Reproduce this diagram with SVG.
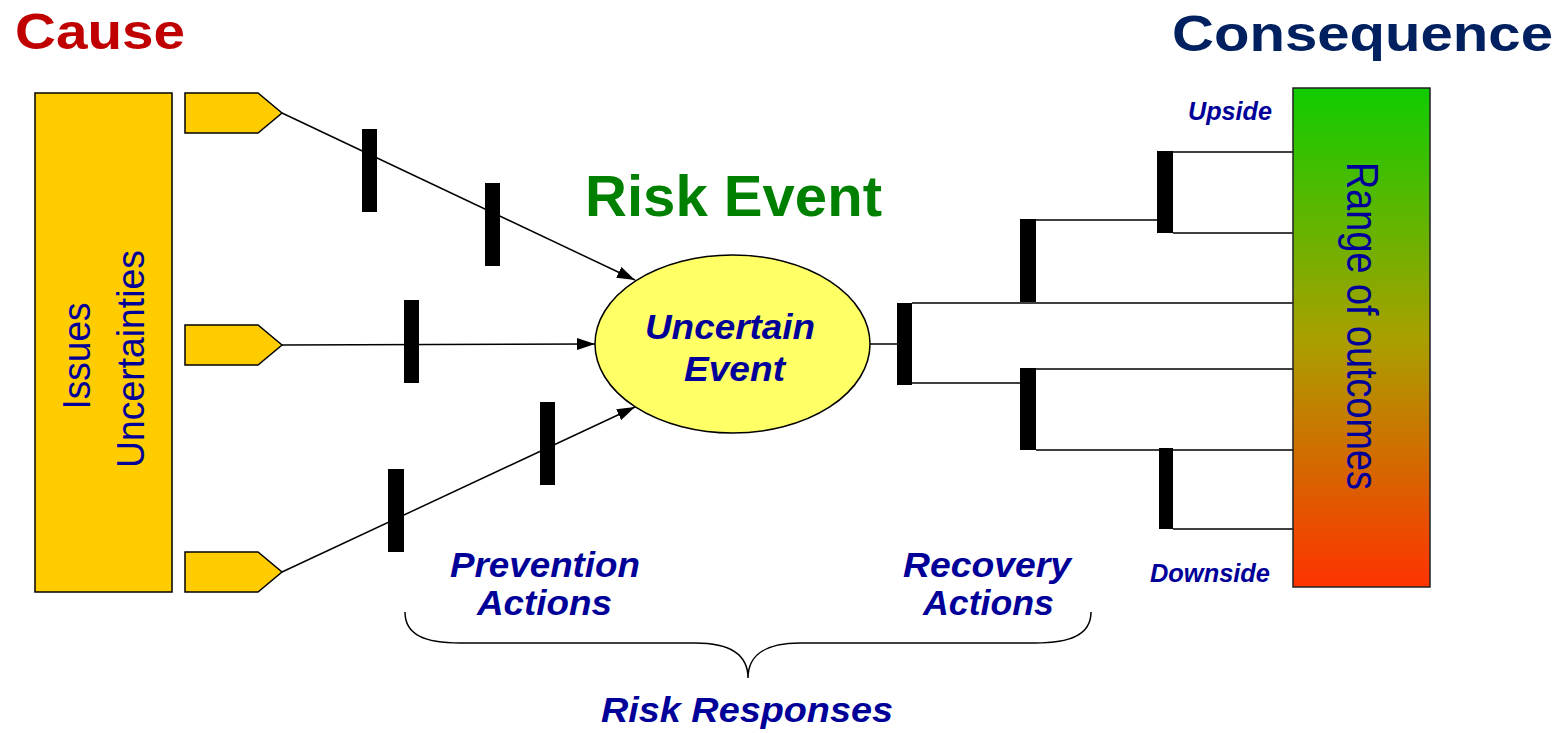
<svg xmlns="http://www.w3.org/2000/svg" width="1564" height="733" viewBox="0 0 1564 733">
<style>
text{font-family:"Liberation Sans",Arial,sans-serif}
.b{font-weight:bold}
.bi{font-weight:bold;font-style:italic;fill:#000099}
.blue{fill:#000099}
.ln{stroke:#000;stroke-width:1.5;fill:none}
.bar{fill:#000}
.yel{fill:#FFCC00;stroke:#000;stroke-width:1.5}
</style>
<defs>
<marker id="arr" markerUnits="userSpaceOnUse" markerWidth="18" markerHeight="12" refX="18" refY="6" orient="auto">
<path d="M0,0 L18,6 L0,12 z" fill="#000"/>
</marker>
<linearGradient id="rg" x1="0" y1="0" x2="0" y2="1">
<stop offset="0" stop-color="#10CC00"/>
<stop offset="0.5" stop-color="#A8A000"/>
<stop offset="1" stop-color="#FF3300"/>
</linearGradient>
</defs>
<rect width="1564" height="733" fill="#fff"/>

<g id="titles">
<text x="15" y="49" class="b" font-size="50" fill="#C00000" textLength="170" lengthAdjust="spacingAndGlyphs">Cause</text>
<text x="1172" y="51" class="b" font-size="50" fill="#002060" textLength="381" lengthAdjust="spacingAndGlyphs">Consequence</text>
<text x="585" y="216" class="b" font-size="58" fill="#008000" textLength="297" lengthAdjust="spacingAndGlyphs">Risk Event</text>
</g>

<g id="causes">
<rect x="35" y="93" width="137" height="499" class="yel"/>
<text transform="translate(90,356) rotate(-90)" text-anchor="middle" font-size="38" class="blue" textLength="107" lengthAdjust="spacingAndGlyphs">Issues</text>
<text transform="translate(144,359) rotate(-90)" text-anchor="middle" font-size="38" class="blue" textLength="218" lengthAdjust="spacingAndGlyphs">Uncertainties</text>
</g>

<g id="cause1"><polygon points="185,93 258,93 282,113 258,133 185,133" class="yel"/></g>
<g id="cause2"><polygon points="185,325 258,325 282,345 258,365 185,365" class="yel"/></g>
<g id="cause3"><polygon points="185,552 258,552 282,572 258,592 185,592" class="yel"/></g>

<g id="connectors">
<line x1="282" y1="113" x2="635" y2="280" class="ln" marker-end="url(#arr)"/>
<line x1="282" y1="345" x2="595" y2="344" class="ln" marker-end="url(#arr)"/>
<line x1="282" y1="572" x2="635" y2="407" class="ln" marker-end="url(#arr)"/>
<line x1="870" y1="344" x2="897" y2="344" class="ln"/>
<line x1="912" y1="303" x2="1293" y2="303" class="ln"/>
<line x1="1036" y1="220" x2="1157" y2="220" class="ln"/>
<line x1="1157" y1="152" x2="1293" y2="152" class="ln"/>
<line x1="1173" y1="233" x2="1293" y2="233" class="ln"/>
<line x1="912" y1="383" x2="1020" y2="383" class="ln"/>
<line x1="1020" y1="369" x2="1293" y2="369" class="ln"/>
<line x1="1036" y1="450" x2="1293" y2="450" class="ln"/>
<line x1="1173" y1="529" x2="1293" y2="529" class="ln"/>
<path d="M405,612 C405,635 425,643 460,643 L695,643 C730,643 748,655 748,678 C748,655 766,643 800,643 L1035,643 C1070,643 1091,635 1091,612" class="ln"/>
</g>

<g id="barriers">
<rect x="362" y="129" width="15" height="83" class="bar"/>
<rect x="485" y="183" width="15" height="83" class="bar"/>
<rect x="404" y="300" width="15" height="83" class="bar"/>
<rect x="388" y="469" width="16" height="83" class="bar"/>
<rect x="540" y="402" width="15" height="83" class="bar"/>
<rect x="897" y="303" width="15" height="82" class="bar"/>
<rect x="1020" y="219" width="16" height="83" class="bar"/>
<rect x="1157" y="151" width="16" height="82" class="bar"/>
<rect x="1020" y="368" width="16" height="82" class="bar"/>
<rect x="1159" y="448" width="14" height="81" class="bar"/>
</g>

<g id="event">
<ellipse cx="732.5" cy="344" rx="137.5" ry="89" fill="#FFFF66" stroke="#000" stroke-width="1.5"/>
<text x="645" y="339" font-size="35" class="bi" textLength="170" lengthAdjust="spacingAndGlyphs">Uncertain</text>
<text x="684" y="381" font-size="35" class="bi" textLength="101" lengthAdjust="spacingAndGlyphs">Event</text>
</g>

<g id="outcomes">
<rect x="1293" y="88" width="137" height="499" fill="url(#rg)" stroke="#222" stroke-width="1.5"/>
<text transform="translate(1347,326) rotate(90)" text-anchor="middle" font-size="44" class="blue" textLength="328" lengthAdjust="spacingAndGlyphs">Range of outcomes</text>
</g>

<g id="labels">
<text x="1188" y="120" font-size="25" class="bi" textLength="84" lengthAdjust="spacingAndGlyphs">Upside</text>
<text x="1150" y="582" font-size="25" class="bi" textLength="120" lengthAdjust="spacingAndGlyphs">Downside</text>
<text x="450" y="577" font-size="35" class="bi" textLength="190" lengthAdjust="spacingAndGlyphs">Prevention</text>
<text x="477" y="615" font-size="35" class="bi" textLength="135" lengthAdjust="spacingAndGlyphs">Actions</text>
<text x="903" y="577" font-size="35" class="bi" textLength="168" lengthAdjust="spacingAndGlyphs">Recovery</text>
<text x="923" y="615" font-size="35" class="bi" textLength="131" lengthAdjust="spacingAndGlyphs">Actions</text>
<text x="601" y="722" font-size="35" class="bi" textLength="292" lengthAdjust="spacingAndGlyphs">Risk Responses</text>
</g>
</svg>
